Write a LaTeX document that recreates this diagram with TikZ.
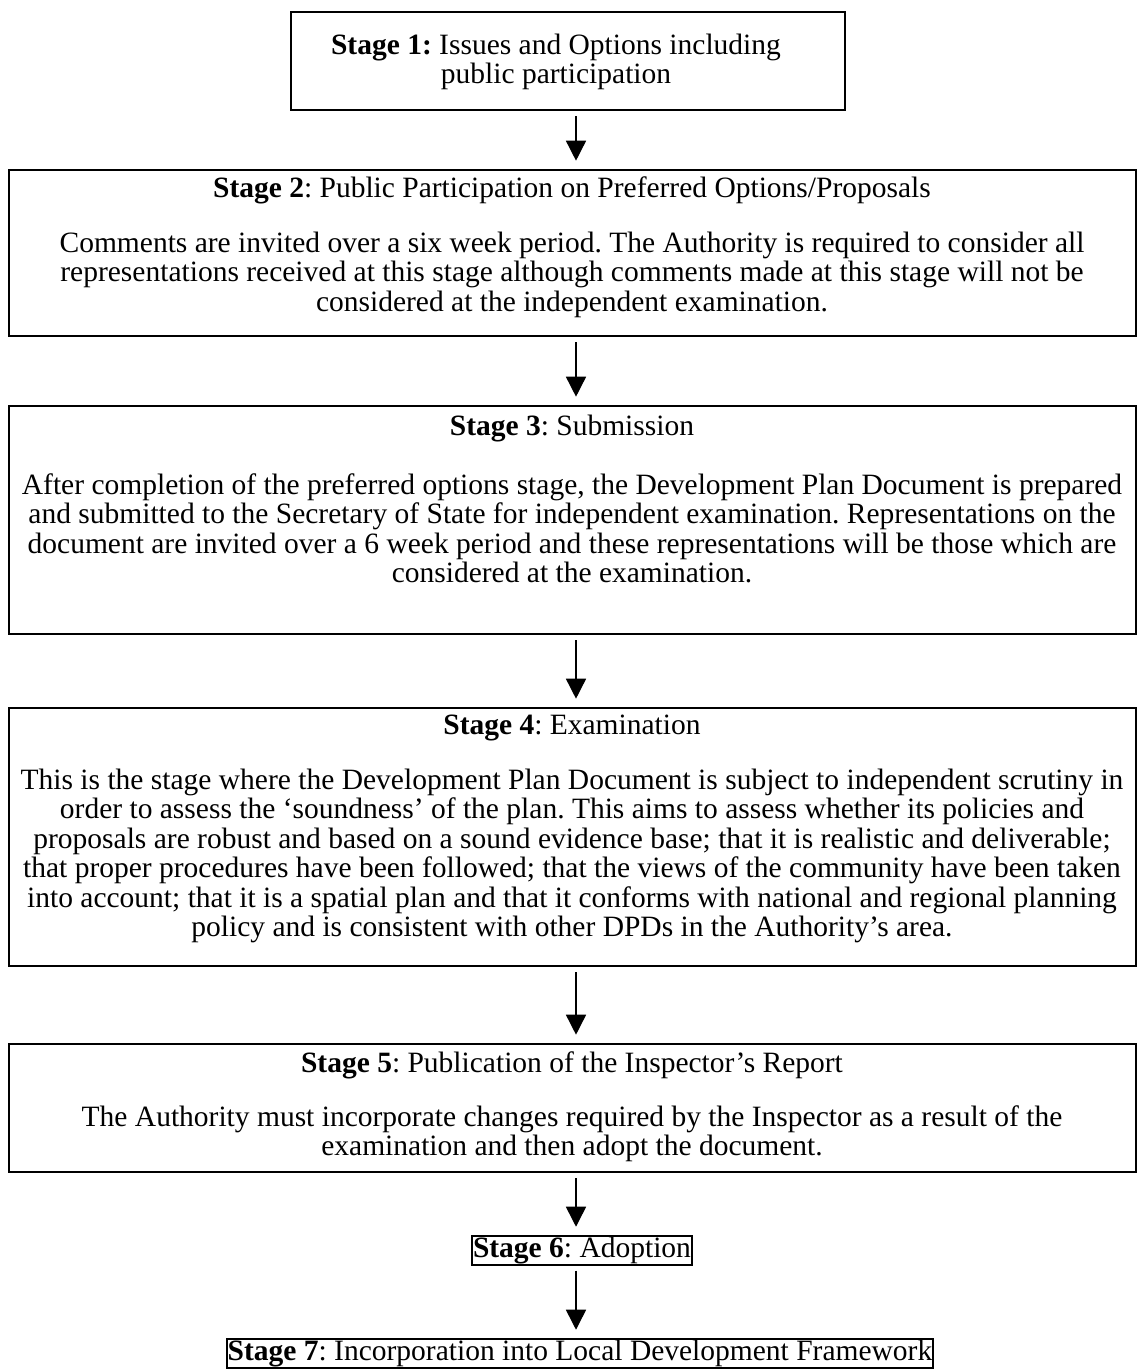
\documentclass[tikz,border=0pt]{standalone}
\usepackage{fontspec}
\setmainfont{Liberation Serif}
\usetikzlibrary{arrows.meta}
\newcommand{\stagefont}{\fontsize{29.5}{29.5}\selectfont\frenchspacing}
\newcommand{\fl}{\rule{0pt}{21pt}}
\begin{document}
\begin{tikzpicture}[x=1pt,y=-1pt,
  stagebox/.style={draw, line width=2.6pt, inner sep=0pt},
  tagbox/.style={draw, line width=2pt, inner sep=1pt, font=\stagefont},
  title/.style={inner sep=0pt, anchor=base, font=\stagefont},
  body/.style={inner sep=0pt, anchor=north, align=center, font=\stagefont},
  arr/.style={line width=1.5pt, -{Triangle[width=20pt,length=20pt]}, shorten <=5pt, shorten >=8pt}]
\fill[white] (0,0) rectangle (1138,1371);
\useasboundingbox (0,0) rectangle (1138,1371);
\coordinate (ax) at (576,0);
% boxes
\node[stagebox, minimum width=554pt, minimum height=98pt] (s1) at (568,61) {};
\node[stagebox, minimum width=1127pt, minimum height=166pt] (s2) at (572.5,253) {};
\node[stagebox, minimum width=1127pt, minimum height=228pt] (s3) at (572.5,520) {};
\node[stagebox, minimum width=1127pt, minimum height=258pt] (s4) at (572.5,837) {};
\node[stagebox, minimum width=1127pt, minimum height=128pt] (s5) at (572.5,1108) {};
\node[tagbox, anchor=base] (s6) at (582,1257.2) {\textbf{Stage 6}: Adoption};
\node[tagbox, anchor=base] (s7) at (580,1360.2) {\textbf{Stage 7}: Incorporation into Local Development Framework};
% texts
\node[body] (t1) at (556,33) {\fl\textbf{Stage 1:} Issues and Options including\\ public participation};
\node[title] (t2) at (572,197) {\textbf{Stage 2}: Public Participation on Preferred Options/Proposals};
\node[body] (b2) at (572,231) {\fl Comments are invited over a six week period. The Authority is required to consider all\\
representations received at this stage although comments made at this stage will not be\\
considered at the independent examination.};
\node[title] (t3) at (572,435) {\textbf{Stage 3}: Submission};
\node[body] (b3) at (572,473) {\fl After completion of the preferred options stage, the Development Plan Document is prepared\\
and submitted to the Secretary of State for independent examination. Representations on the\\
document are invited over a 6 week period and these representations will be those which are\\
considered at the examination.};
\node[title] (t4) at (572,734) {\textbf{Stage 4}: Examination};
\node[body] (b4) at (572,768) {\fl This is the stage where the Development Plan Document is subject to independent scrutiny in\\
order to assess the ‘soundness’ of the plan. This aims to assess whether its policies and\\
proposals are robust and based on a sound evidence base; that it is realistic and deliverable;\\
that proper procedures have been followed; that the views of the community have been taken\\
into account; that it is a spatial plan and that it conforms with national and regional planning\\
policy and is consistent with other DPDs in the Authority’s area.};
\node[title] (t5) at (572,1072) {\textbf{Stage 5}: Publication of the Inspector’s Report};
\node[body] (b5) at (572,1105) {\fl The Authority must incorporate changes required by the Inspector as a result of the\\
examination and then adopt the document.};
% arrows
\draw[arr] (s1.south -| ax) -- (s2.north -| ax);
\draw[arr] (s2.south -| ax) -- (s3.north -| ax);
\draw[arr] (s3.south -| ax) -- (s4.north -| ax);
\draw[arr] (s4.south -| ax) -- (s5.north -| ax);
\draw[arr] (s5.south -| ax) -- (s6.north -| ax);
\draw[arr] (s6.south -| ax) -- (s7.north -| ax);
\end{tikzpicture}
\end{document}
